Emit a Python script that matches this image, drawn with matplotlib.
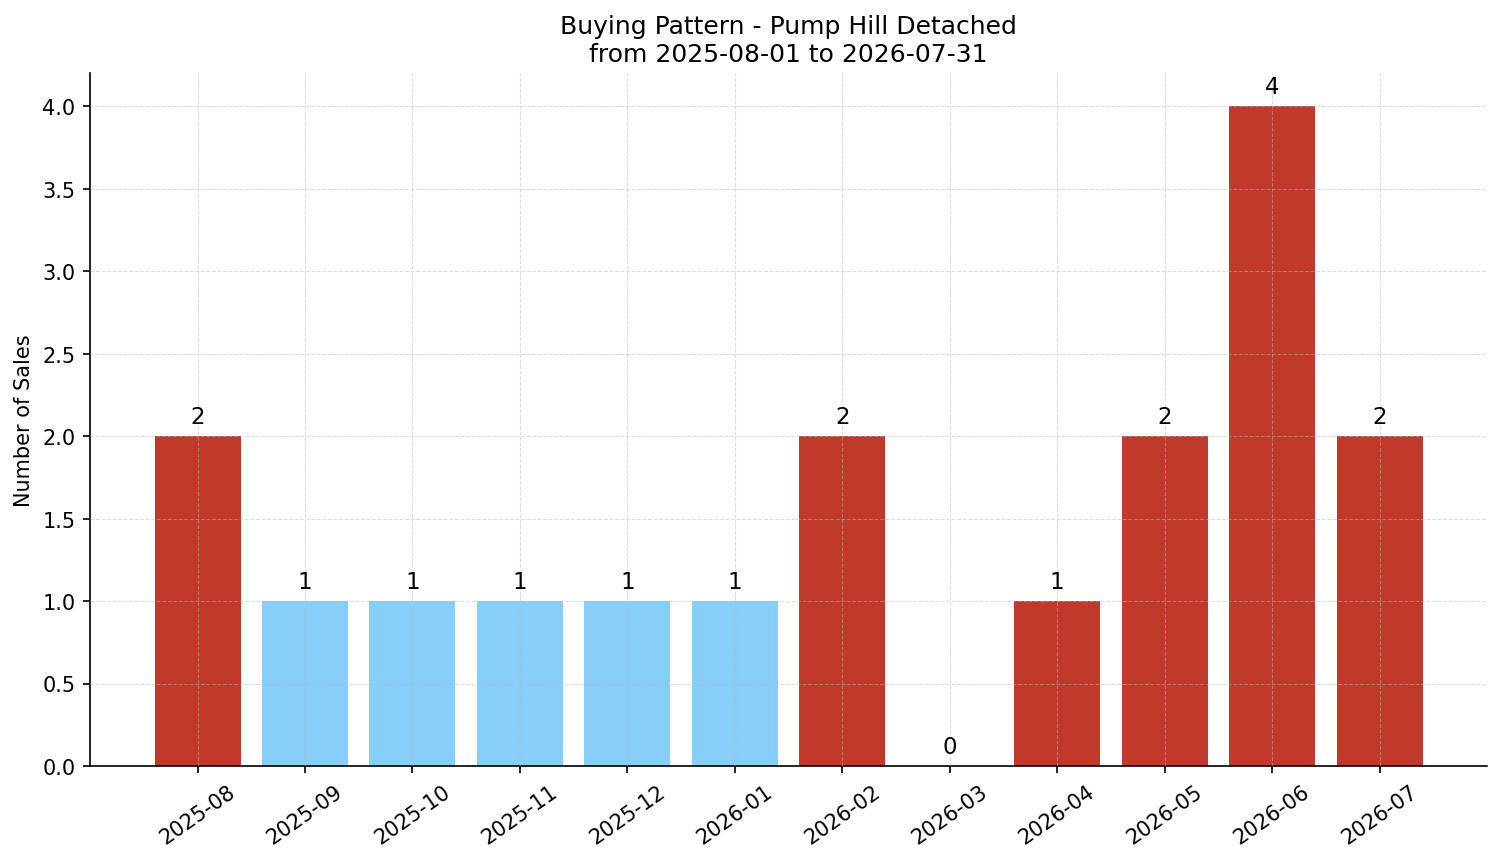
import matplotlib
matplotlib.use('Agg')
import matplotlib.pyplot as plt

months = ['2025-08', '2025-09', '2025-10', '2025-11', '2025-12', '2026-01',
          '2026-02', '2026-03', '2026-04', '2026-05', '2026-06', '2026-07']
sales = [2, 1, 1, 1, 1, 1, 2, 0, 1, 2, 4, 2]
bar_colors = ['#c0392b', '#87cefa', '#87cefa', '#87cefa', '#87cefa', '#87cefa',
              '#c0392b', '#c0392b', '#c0392b', '#c0392b', '#c0392b', '#c0392b']

fig = plt.figure(figsize=(10.007, 5.753), dpi=150)
ax = fig.add_axes([0.06, 0.1112, 0.9307, 0.803])

x = range(len(months))
bars = ax.bar(x, sales, color=bar_colors, width=0.8)
for b, v in zip(bars, sales):
    ax.text(b.get_x() + b.get_width() / 2, v + 0.05, str(v),
            ha='center', va='bottom', fontsize=11)

ax.set_xticks(list(x))
ax.set_xticklabels(months, rotation=35, ha='center')
ax.set_xlim(-1, len(months))
ax.set_ylim(0, max(sales) * 1.05)
ax.set_ylabel('Number of Sales')
ax.set_title('Buying Pattern - Pump Hill Detached\nfrom 2025-08-01 to 2026-07-31', fontsize=12)
ax.grid(True, linestyle='--', color='#bbbbbb', alpha=0.5, linewidth=0.5)
ax.set_axisbelow(False)
ax.spines['top'].set_visible(False)
ax.spines['right'].set_visible(False)

fig.savefig('out.png')
